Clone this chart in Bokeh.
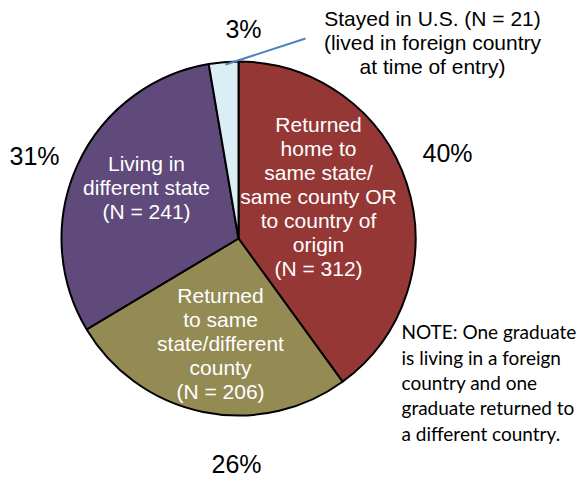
import numpy as np
from bokeh.plotting import figure
from bokeh.models import Range1d, ColumnDataSource
from bokeh.core.properties import value
from bokeh.embed import file_html
from bokeh.resources import INLINE

# ---- data ----
categories = [
    "Returned home to same state/same county OR to country of origin",
    "Returned to same state/different county",
    "Living in different state",
    "Stayed in U.S.",
]
counts = [312, 206, 241, 21]
slice_labels = [
    "Returned\nhome to\nsame state/\nsame county OR\nto country of\norigin\n(N = 312)",
    "Returned\nto same\nstate/different\ncounty\n(N = 206)",
    "Living in\ndifferent state\n(N = 241)",
    "",
]
callout_text = "Stayed in U.S. (N = 21)\n(lived in foreign country\nat time of entry)"
note_text = ("NOTE: One graduate\nis living in a foreign\ncountry and one\n"
             "graduate returned to\na different country.")

# ---- style / layout ----
colors = ["#953735", "#948A54", "#604A7B", "#DBEEF4"]
W, H = 586, 479

def sy(y):  # screen y (pixel from top) -> data y
    return H - y

cx, cy, r = 238, sy(238), 177
label_pos = [(318, 196), (220, 343), (146, 187)]
pct_pos = [(447, 152), (236, 463), (34, 155), (243, 28)]

counts_arr = np.array(counts, dtype=float)
frac = counts_arr / counts_arr.sum()
cum = np.concatenate([[0], np.cumsum(frac)])
start = np.pi / 2 - cum[:-1] * 2 * np.pi
end = np.pi / 2 - cum[1:] * 2 * np.pi
pcts = [f"{int(round(f * 100))}%" for f in frac]

p = figure(width=W, height=H, output_backend="svg", toolbar_location=None,
           x_range=Range1d(0, W), y_range=Range1d(0, H), min_border=0)
p.axis.visible = False
p.grid.visible = False
p.outline_line_color = None
p.background_fill_color = "white"

src = ColumnDataSource(dict(start=start, end=end, color=colors, cat=categories))
p.wedge(x=cx, y=cy, radius=r, start_angle="start", end_angle="end",
        direction="clock", fill_color="color", line_color="black",
        line_width=2, source=src)

p.text(x=[q[0] for q in label_pos], y=[sy(q[1]) for q in label_pos],
       text=slice_labels[:3], text_color="white",
       text_font=value("Liberation Sans"), text_font_size="21px",
       text_align="center", text_baseline="middle", text_line_height=1.05)

p.text(x=[q[0] for q in pct_pos], y=[sy(q[1]) for q in pct_pos], text=pcts,
       text_color="black", text_font=value("Liberation Sans"),
       text_font_size="25px", text_align="center", text_baseline="middle")

p.segment(x0=[225], y0=[sy(64)], x1=[305], y1=[sy(38)],
          line_color="#4F81BD", line_width=2)

p.text(x=[432], y=[sy(42)], text=[callout_text], text_color="black",
       text_font=value("Liberation Sans"), text_font_size="21px",
       text_align="center", text_baseline="middle", text_line_height=1.05)

p.text(x=[401], y=[sy(382)], text=[note_text], text_color="black",
       text_font=value("Lato"), text_font_size="19px",
       text_align="left", text_baseline="middle", text_line_height=1.1)

open("out.html", "w").write(file_html(p, INLINE))
